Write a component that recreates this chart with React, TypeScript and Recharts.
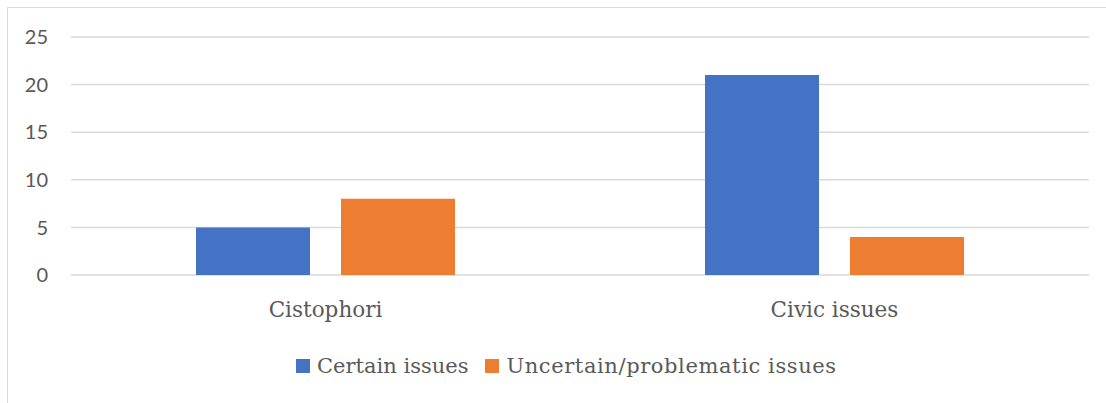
import { BarChart, Bar, XAxis, YAxis, CartesianGrid } from "recharts";

const categories = ["Cistophori", "Civic issues"];
const certainIssues = [5, 21];
const uncertainIssues = [8, 4];
const yTicks = [0, 5, 10, 15, 20, 25];

const seriesList = [
  { key: "certain", name: "Certain issues", color: "#4472C4", values: certainIssues },
  { key: "uncertain", name: "Uncertain/problematic issues", color: "#ED7D31", values: uncertainIssues },
];

const data = categories.map((name, i) => {
  const row: Record<string, string | number> = { name };
  seriesList.forEach((s) => {
    row[s.key] = s.values[i];
  });
  return row;
});

const textGray = "#595959";
const gridGray = "#D9D9D9";
const serif = "'DejaVu Serif', serif";

// legend sits below the chart, outside the svg so it doesn't eat plot height
const LegendRow = () => (
  <div
    style={{
      position: "absolute",
      left: 296,
      top: 354,
      display: "flex",
      alignItems: "center",
      fontFamily: serif,
      fontSize: 21,
      color: textGray,
      whiteSpace: "nowrap",
    }}
  >
    {seriesList.map((s, i) => (
      <div
        key={s.key}
        style={{ display: "flex", alignItems: "center", marginLeft: i === 0 ? 0 : 17 }}
      >
        <span
          style={{ width: 14, height: 14, background: s.color, display: "inline-block", marginRight: 7 }}
        />
        <span style={{ letterSpacing: i === 0 ? 0 : 0.6 }}>{s.name}</span>
      </div>
    ))}
  </div>
);

const App = () => {
  return (
    <div
      style={{
        position: "absolute",
        top: 0,
        left: 0,
        width: 1106,
        height: 403,
        overflow: "hidden",
        background: "#fff",
      }}
    >
      <div
        style={{
          position: "absolute",
          left: 7,
          top: 7,
          width: 1120,
          height: 420,
          border: `1.5px solid ${gridGray}`,
        }}
      />
      <BarChart
        width={1106}
        height={403}
        data={data}
        margin={{ top: 37, right: 17, bottom: 68, left: 0 }}
        barSize={114}
        barGap={31}
      >
        <CartesianGrid vertical={false} stroke={gridGray} strokeWidth={1.5} />
        <XAxis
          dataKey="name"
          axisLine={false}
          tickLine={false}
          tickSize={0}
          tickMargin={27}
          height={60}
          tick={{ fill: textGray, fontFamily: serif, fontSize: 21.5 }}
        />
        <YAxis
          width={71}
          domain={[0, 25]}
          ticks={yTicks}
          axisLine={false}
          tickLine={false}
          tickSize={0}
          tickMargin={23}
          tick={{ fill: textGray, fontFamily: "Lato, sans-serif", fontSize: 20 }}
        />
        {seriesList.map((s) => (
          <Bar key={s.key} dataKey={s.key} name={s.name} fill={s.color} isAnimationActive={false} />
        ))}
      </BarChart>
      <LegendRow />
    </div>
  );
};

export default App;
